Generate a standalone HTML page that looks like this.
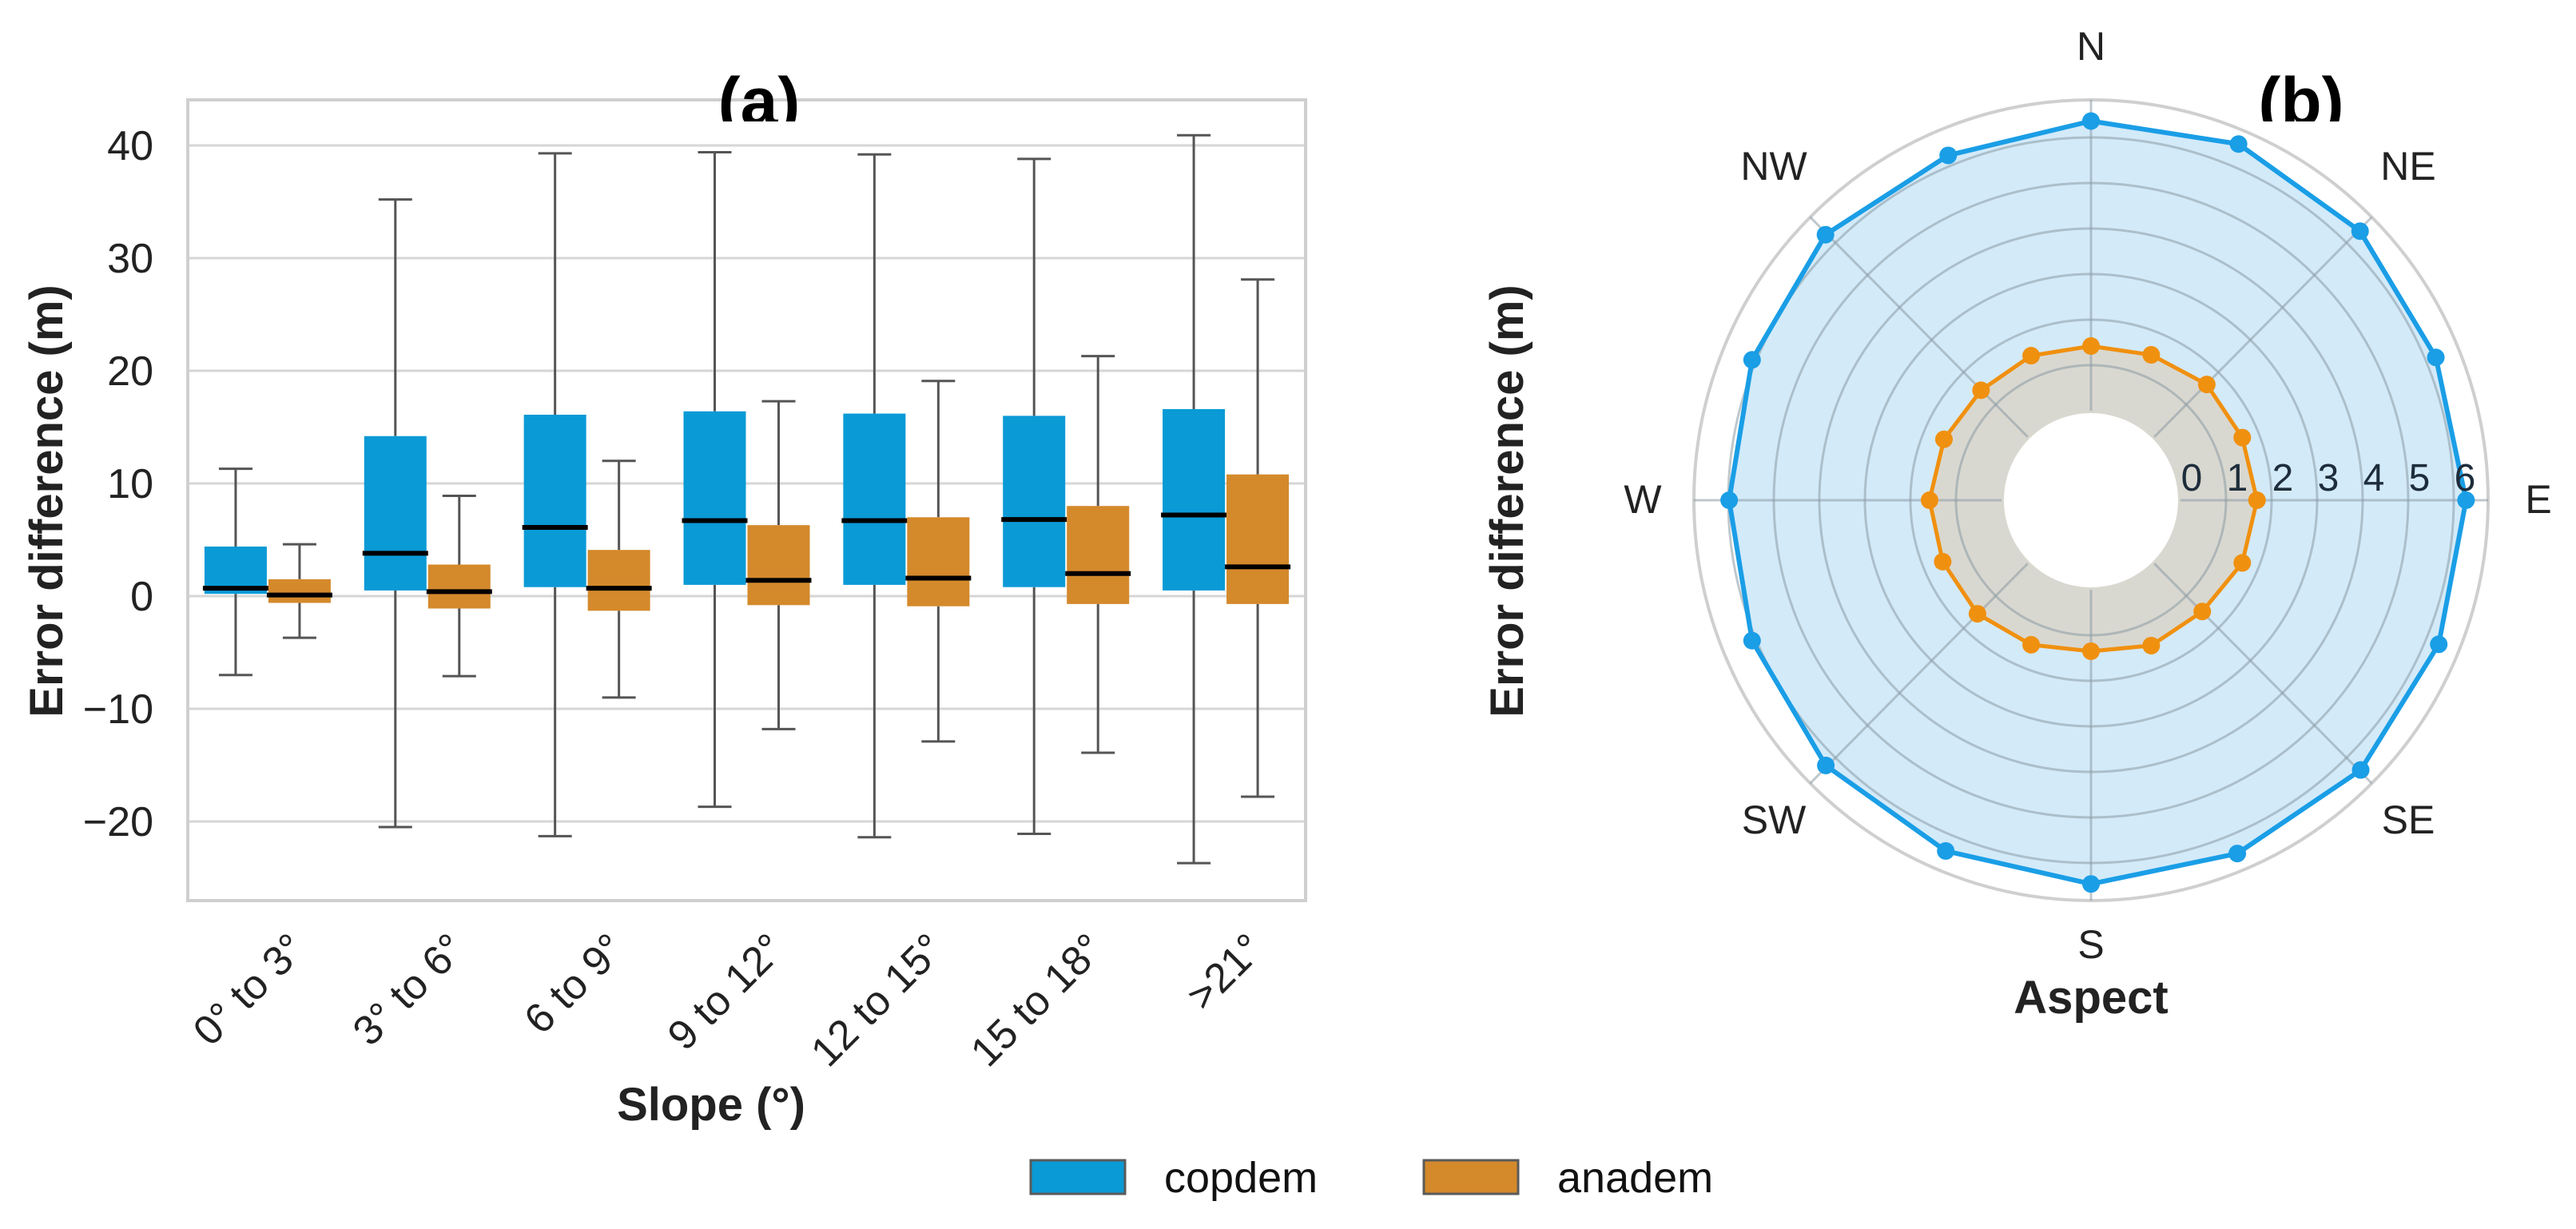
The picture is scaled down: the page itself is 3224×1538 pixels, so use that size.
<!DOCTYPE html>
<html><head><meta charset="utf-8"><style>
html,body{margin:0;padding:0;background:#fff}
svg{display:block;font-family:"Liberation Sans",Arial,sans-serif}
</style></head><body>
<svg id="fig" width="3224" height="1538" viewBox="0 0 3224 1538" xmlns="http://www.w3.org/2000/svg">
<defs><clipPath id="titleclip"><rect x="0" y="0" width="3224" height="152"/></clipPath></defs>
<g id="panelA"></g>
<g id="panelB"></g>
<g id="legend">
  <rect x="1290" y="1452" width="118" height="42" fill="#0a9ad6" stroke="#5a5a5a" stroke-width="3"/>
  <text x="1457" y="1492" font-size="54" fill="#111">copdem</text>
  <rect x="1782" y="1452" width="118" height="42" fill="#d4892b" stroke="#5a5a5a" stroke-width="3"/>
  <text x="1949" y="1492" font-size="54" fill="#111">anadem</text>
</g>
</svg>
<script>
// ---- Panel (a) data ----
const categories = ["0° to 3°","3° to 6°","6 to 9°","9 to 12°","12 to 15°","15 to 18°",">21°"];
const yTicks = [-20,-10,0,10,20,30,40];
const copLow  = [-7.0,-20.5,-21.3,-18.7,-21.4,-21.1,-23.7];
const copQ1   = [0.2,0.5,0.8,1.0,1.0,0.8,0.5];
const copMed  = [0.7,3.8,6.1,6.7,6.7,6.8,7.2];
const copQ3   = [4.4,14.2,16.1,16.4,16.2,16.0,16.6];
const copHigh = [11.3,35.2,39.3,39.4,39.2,38.8,40.9];
const anaLow  = [-3.7,-7.1,-9.0,-11.8,-12.9,-13.9,-17.8];
const anaQ1   = [-0.6,-1.1,-1.3,-0.8,-0.9,-0.7,-0.7];
const anaMed  = [0.1,0.4,0.7,1.4,1.6,2.0,2.6];
const anaQ3   = [1.5,2.8,4.1,6.3,7.0,8.0,10.8];
const anaHigh = [4.6,8.9,12.0,17.3,19.1,21.3,28.1];
// ---- Panel (b) data ----
const directions = ["N","NNE","NE","ENE","E","ESE","SE","SSE","S","SSW","SW","WSW","W","WNW","NW","NNW"];
const copAspect = [6.36,6.5,6.39,6.23,6.27,6.3,6.41,6.43,6.46,6.37,6.27,6.09,5.98,6.09,6.28,6.23];
const anaAspect = [1.42,1.49,1.63,1.63,1.68,1.63,1.49,1.49,1.35,1.47,1.56,1.56,1.58,1.53,1.45,1.47];
const radialTicks = [0,1,2,3,4,5,6];
const compassLabels = ["N","NE","E","SE","S","SW","W","NW"];

const NS="http://www.w3.org/2000/svg";
function mk(tag, attrs, parent, txt){const e=document.createElementNS(NS,tag);for(const k in attrs)e.setAttribute(k,attrs[k]);if(txt!==undefined)e.textContent=txt;parent.appendChild(e);return e;}

// ===== Panel A =====
const A=document.getElementById('panelA');
const PL=235, PR=1634, PT=125, PB=1127;
const Y0=746, PXU=14.1;
const yS = v => Y0 - v*PXU;
const band = (PR-PL)/categories.length;
const xC = i => PL + band*(i+0.5);

mk('rect',{x:PL,y:PT,width:PR-PL,height:PB-PT,fill:'#fff',stroke:'none'},A);
yTicks.forEach(t=>{
  const g=mk('line',{x1:PL,x2:PR,y1:yS(t),y2:yS(t),stroke:'#d6d6d6','stroke-width':3},A);
  
  
  const l=mk('text',{x:192,y:yS(t)+18,'font-size':52,'text-anchor':'end',fill:'#222'},A,(t<0?'\u2212'+(-t):String(t)));
  
  
});
const fr=mk('rect',{x:PL,y:PT,width:PR-PL,height:PB-PT,fill:'none',stroke:'#cfcfcf','stroke-width':4},A);



function drawBox(cx, lo,q1,md,q3,hi,color,name){
  const w=78;
  const g=mk('g',{},A);
  
  
  mk('line',{x1:cx,x2:cx,y1:yS(hi),y2:yS(q3),stroke:'#555','stroke-width':3},g);
  mk('line',{x1:cx,x2:cx,y1:yS(q1),y2:yS(lo),stroke:'#555','stroke-width':3},g);
  mk('line',{x1:cx-21,x2:cx+21,y1:yS(hi),y2:yS(hi),stroke:'#555','stroke-width':3},g);
  mk('line',{x1:cx-21,x2:cx+21,y1:yS(lo),y2:yS(lo),stroke:'#555','stroke-width':3},g);
  mk('rect',{x:cx-w/2,y:yS(q3),width:w,height:yS(q1)-yS(q3),fill:color},g);
  mk('line',{x1:cx-w/2-2,x2:cx+w/2+2,y1:yS(md),y2:yS(md),stroke:'#000','stroke-width':6},g);
}
categories.forEach((c,i)=>{
  drawBox(xC(i)-40,copLow[i],copQ1[i],copMed[i],copQ3[i],copHigh[i],'#0a9ad6','box-copdem-'+i);
  drawBox(xC(i)+40,anaLow[i],anaQ1[i],anaMed[i],anaQ3[i],anaHigh[i],'#d4892b','box-anadem-'+i);
  const x=xC(i)+50, y=1190;
  const t=mk('text',{x:x,y:y,'font-size':52,'text-anchor':'end',fill:'#222',transform:`rotate(-45 ${x} ${y})`},A,c);
  
  
});
const yt=mk('text',{x:0,y:0,'font-size':58,'font-weight':'bold','text-anchor':'middle',fill:'#222',transform:'translate(78 627) rotate(-90)'},A,'Error difference (m)');


const xt=mk('text',{x:890,y:1402,'font-size':58,'font-weight':'bold','text-anchor':'middle',fill:'#222'},A,'Slope (°)');


// title (a) drawn on top, clipped
const ta=mk('text',{x:950,y:156,'font-size':84,'font-weight':'bold','text-anchor':'middle','clip-path':'url(#titleclip)',fill:'#000'},A,'(a)');



// ===== Panel B =====
const B=document.getElementById('panelB');
const CX=2617, CY=626, R0=112, K=57, ORX=497, ORY=501;
const pt=(i,v)=>{const a=i*Math.PI*2/directions.length;return [CX+(R0+K*v)*Math.sin(a), CY-(R0+K*v)*Math.cos(a)];};

const oc=mk('ellipse',{cx:CX,cy:CY,rx:ORX,ry:ORY,fill:'#fff',stroke:'#cfcfcf','stroke-width':4},B);



const copPts=copAspect.map((v,i)=>pt(i,v));
const anaPts=anaAspect.map((v,i)=>pt(i,v));
const ps=a=>a.map(p=>p[0].toFixed(1)+','+p[1].toFixed(1)).join(' ');
const cf=mk('polygon',{points:ps(copPts),fill:'#d3eaf9',stroke:'none'},B);


const af=mk('polygon',{points:ps(anaPts),fill:'#d9d8d0',stroke:'none'},B);



radialTicks.forEach(v=>{
  if(v===0) return;
  const r=mk('circle',{cx:CX,cy:CY,r:R0+K*v,fill:'none',stroke:'#8a9aa4','stroke-opacity':0.55,'stroke-width':3},B);
  
  
});
for(let k=0;k<8;k++){
  const a=k*Math.PI/4;
  const s=mk('line',{x1:CX+R0*Math.sin(a),y1:CY-R0*Math.cos(a),x2:CX+ORX*Math.sin(a),y2:CY-ORY*Math.cos(a),stroke:'#8a9aa4','stroke-opacity':0.55,'stroke-width':3},B);
  
  
}
const hole=mk('circle',{cx:CX,cy:CY,r:R0-3,fill:'#fff'},B);



const cl=mk('polygon',{points:ps(copPts),fill:'none',stroke:'#1a9ee6','stroke-width':6,'stroke-linejoin':'round'},B);


copPts.forEach(p=>{const m=mk('circle',{cx:p[0],cy:p[1],r:11,fill:'#1a9ee6'},B);
  
  });
const al=mk('polygon',{points:ps(anaPts),fill:'none',stroke:'#f0900f','stroke-width':5,'stroke-linejoin':'round'},B);


anaPts.forEach(p=>{const m=mk('circle',{cx:p[0],cy:p[1],r:11,fill:'#f0900f'},B);
  
  });

radialTicks.forEach(v=>{
  const x=CX+R0+K*v+14;
  const t=mk('text',{x:x,y:614,'font-size':48,'text-anchor':'middle',fill:'#1e2d3b'},B,String(v));
  
  
});
const compassPos=[[2617,75],[3014,225],[3177,642],[3014,1043],[2617,1199],[2220,1043],[2056,642],[2220,225]];
compassLabels.forEach((c,i)=>{
  const t=mk('text',{x:compassPos[i][0],y:compassPos[i][1],'font-size':50,'text-anchor':'middle',fill:'#222'},B,c);
  
  
});
const at=mk('text',{x:2617,y:1268,'font-size':58,'font-weight':'bold','text-anchor':'middle',fill:'#222'},B,'Aspect');


const yb=mk('text',{x:0,y:0,'font-size':58,'font-weight':'bold','text-anchor':'middle',fill:'#222',transform:'translate(1906 627) rotate(-90)'},B,'Error difference (m)');


const tb=mk('text',{x:2880,y:156,'font-size':84,'font-weight':'bold','text-anchor':'middle','clip-path':'url(#titleclip)',fill:'#000'},B,'(b)');


</script>
</body></html>
